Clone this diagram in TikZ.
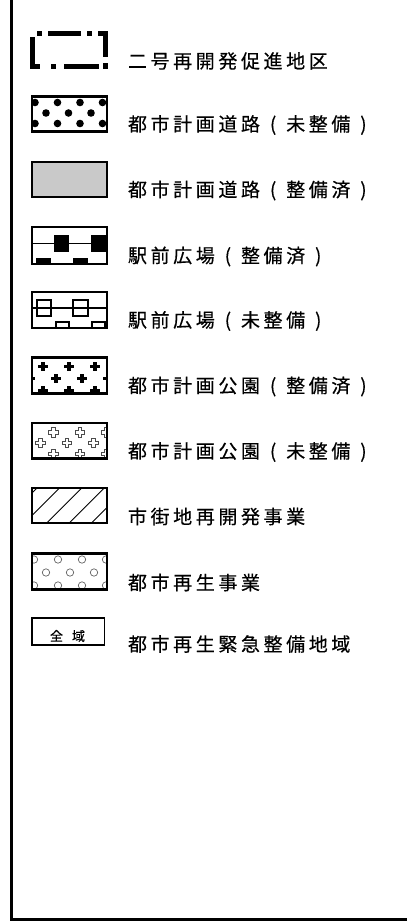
\documentclass[tikz,border=0pt]{standalone}
\usepackage{fontspec}
\newfontfamily\jp[FakeBold=0.4]{Noto Sans CJK JP}
\newlength\jcellw
\setlength\jcellw{22.6pt}
\makeatletter
\def\jcells#1{\jcells@#1\relax}
\def\jcells@#1{\ifx\relax#1\else\makebox[\jcellw][c]{#1}\expandafter\jcells@\fi}
\makeatother
\tikzset{
  frameline/.style={line width=2.2pt, draw=black},
  thickbox/.style={line width=2.4pt, draw=black},
  thinbox/.style={line width=1.3pt, draw=black},
  dashframe/.style={line width=5pt, draw=black, line cap=butt, line join=miter},
  label/.style={anchor=west, inner sep=0pt, font=\jp\fontsize{19}{19}\selectfont},
  smalllabel/.style={inner sep=0pt, font=\jp\fontsize{13}{13}\selectfont},
  dotfill/.style={fill=black},
  ring/.style={draw=black!60, line width=0.7pt},
  hatch/.style={draw=black, line width=0.9pt},
  openplus/.style={draw=black!70, line width=0.7pt, fill=white},
}
\newcommand\openplusmark[2]{%
  \draw[openplus] (#1-1.8,#2-4.8) -- (#1+1.8,#2-4.8) -- (#1+1.8,#2-1.8) -- (#1+4.8,#2-1.8) -- (#1+4.8,#2+1.8) -- (#1+1.8,#2+1.8) -- (#1+1.8,#2+4.8) -- (#1-1.8,#2+4.8) -- (#1-1.8,#2+1.8) -- (#1-4.8,#2+1.8) -- (#1-4.8,#2-1.8) -- (#1-1.8,#2-1.8) -- cycle;}
\newcommand\solidplusmark[2]{%
  \fill (#1-4.8,#2-1.7) rectangle (#1+4.8,#2+1.7);
  \fill (#1-1.7,#2-4.8) rectangle (#1+1.7,#2+4.8);}
\begin{document}
\begin{tikzpicture}[x=1pt,y=-1pt]
\useasboundingbox (0,0) rectangle (407,921);
\fill[white] (0,0) rectangle (407,921);
% outer frame (left and bottom visible)
\draw[frameline] (11.5,0) -- (11.5,919.5) -- (407,919.5);

% ---- row 1: dash-dot frame
\draw[dashframe] (37,33.5) -- (42,33.5);
\draw[dashframe] (48,33.5) -- (81,33.5);
\draw[dashframe] (87,33.5) -- (92,33.5);
\draw[dashframe] (98,33.5) -- (105.5,33.5) -- (105.5,57);
\draw[dashframe] (32.5,37) -- (32.5,66.5) -- (40,66.5);
\draw[dashframe] (51,66.5) -- (56,66.5);
\draw[dashframe] (64,66.5) -- (99,66.5);
\draw[dashframe] (105.5,63) -- (105.5,69);
\node[label] (t1) at (126,61) {\jcells{二号再開発促進地区}};

% ---- row 2: dots
\begin{scope}
\clip (32,96.5) rectangle (107,131.5);
\foreach \x in {35,57.5,80,102.5} {
  \fill[dotfill] (\x,102.5) circle[radius=3.8pt];
  \fill[dotfill] (\x,123.5) circle[radius=3.8pt];
}
\foreach \x in {46,68.5,91} \fill[dotfill] (\x,113) circle[radius=3.8pt];
\end{scope}
\draw[thickbox] (32,96.5) rectangle (107,131.5);
\node[label] (t2) at (126,125) {\jcells{都市計画道路(未整備)}};

% ---- row 3: grey
\draw[thickbox, fill=black!21] (32,162) rectangle (107,197);
\node[label] (t3) at (126,190.5) {\jcells{都市計画道路(整備済)}};

% ---- row 4: station plaza (built)
\draw[thickbox] (32,227) rectangle (107,264);
\draw[line width=1.3pt] (32,243.5) -- (107,243.5);
\fill (54,235) rectangle (69,252);
\fill (91,235) rectangle (107,252);
\fill (36,257.5) rectangle (51,264);
\fill (73,257.5) rectangle (88,264);
\node[label] (t4) at (126,256.5) {\jcells{駅前広場(整備済)}};

% ---- row 5: station plaza (unbuilt)
\draw[thickbox] (32,292) rectangle (107,328);
\draw[line width=1.1pt] (32,308) -- (107,308);
\draw[line width=1.1pt] (37,300) rectangle (51,316);
\draw[line width=1.1pt] (73,300) rectangle (88,316);
\draw[line width=1.1pt] (56,322) rectangle (69,328);
\draw[line width=1.1pt] (92,322) rectangle (105,328);
\node[label] (t5) at (126,321) {\jcells{駅前広場(未整備)}};

% ---- row 6: park (built) - filled crosses
\begin{scope}
\clip (32,357.5) rectangle (107,393.5);
\foreach \x in {43,69,95} { \solidplusmark{\x}{366.5} \solidplusmark{\x}{390.5} }
\foreach \x in {30,56,82,108} { \solidplusmark{\x}{378.5} }
\end{scope}
\draw[thickbox] (32,357.5) rectangle (107,393.5);
\node[label] (t6) at (126,386.5) {\jcells{都市計画公園(整備済)}};

% ---- row 7: park (unbuilt) - open crosses
\begin{scope}
\clip (32,423) rectangle (107,458.5);
\foreach \x in {27,53.5,80,106.5} { \openplusmark{\x}{432.5} \openplusmark{\x}{454} }
\foreach \x in {40.5,67,93.5} { \openplusmark{\x}{443} }
\end{scope}
\draw[thickbox] (32,423) rectangle (107,458.5);
\node[label] (t7) at (126,452) {\jcells{都市計画公園(未整備)}};

% ---- row 8: hatching
\begin{scope}
\clip (32,488) rectangle (107,523);
\foreach \xb in {2,24.4,46.8,69.2,91.6} \draw[hatch] (\xb,523) -- (\xb+35,488);
\end{scope}
\draw[thinbox] (32,488) rectangle (107,523);
\node[label] (t8) at (126,516.5) {\jcells{市街地再開発事業}};

% ---- row 9: rings
\begin{scope}
\clip (32,553.5) rectangle (107,589.5);
\foreach \x in {34,58,82,106} {
  \draw[ring] (\x,559.5) circle[radius=3.7pt];
  \draw[ring] (\x,585.5) circle[radius=3.7pt];
}
\foreach \x in {46,70,94} \draw[ring] (\x,572.5) circle[radius=3.7pt];
\end{scope}
\draw[thickbox] (32,553.5) rectangle (107,589.5);
\node[label] (t9) at (126,582.5) {\jcells{都市再生事業}};

% ---- row 10: whole area
\draw[thinbox] (32,618) rectangle (104.5,645);
\node[smalllabel] (z10) at (67.5,636) {\makebox[22pt]{全}\makebox[22pt]{域}};
\node[label] (t10) at (126,644) {\jcells{都市再生緊急整備地域}};
\end{tikzpicture}
\end{document}
